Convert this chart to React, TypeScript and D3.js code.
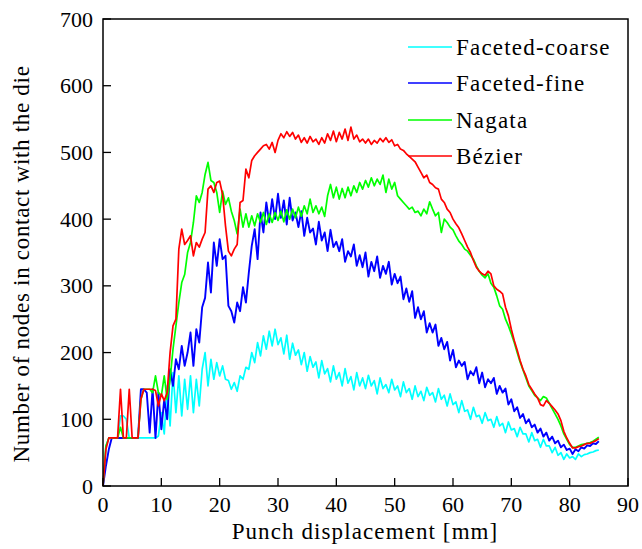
import React from "react";
import * as d3 from "d3";

const X_STEP = 0.5;
const X_TICKS = [0, 10, 20, 30, 40, 50, 60, 70, 80, 90];
const Y_TICKS = [0, 100, 200, 300, 400, 500, 600, 700];
const SERIES_NAMES = ["Faceted-coarse", "Faceted-fine", "Nagata", "Bézier"];
const SERIES_COLORS = ["#00ffff", "#0000ff", "#00ff00", "#ff0000"];

// values sampled every 0.5 mm from 0 to 85 mm
const facetedCoarse = [
  0, 60, 72, 72, 72, 72, 105, 105, 100, 72,
  72, 72, 72, 72, 72, 72, 72, 72, 72, 75,
  110, 78, 150, 90, 170, 110, 165, 105, 160, 115,
  165, 110, 160, 120, 175, 200, 150, 190, 160, 185,
  165, 180, 160, 158, 145, 155, 142, 165, 160, 178,
  175, 200, 185, 215, 195, 225, 205, 232, 210, 235,
  212, 222, 198, 226, 190, 214, 196, 204, 182, 200,
  172, 194, 178, 186, 162, 188, 168, 176, 156, 180,
  160, 170, 150, 176, 154, 164, 144, 170, 150, 162,
  146, 166, 150, 158, 138, 162, 146, 152, 140, 160,
  144, 150, 134, 156, 140, 146, 130, 150, 134, 142,
  128, 148, 136, 140, 126, 146, 130, 136, 120, 138,
  122, 126, 110, 128, 112, 114, 100, 118, 104, 106,
  94, 110, 98, 100, 88, 104, 90, 94, 80, 96,
  84, 86, 74, 88, 78, 78, 66, 80, 68, 70,
  58, 70, 60, 60, 50, 58, 46, 50, 40, 48,
  42, 44, 40, 48, 44, 47, 48, 50, 51, 53,
  54,
];

const facetedFine = [
  0, 30, 55, 72, 72, 72, 72, 72, 72, 72,
  72, 72, 72, 145, 145, 140, 80, 145, 72, 140,
  85, 130, 100, 175, 150, 190, 175, 210, 180, 200,
  230, 180, 235, 215, 268, 282, 335, 290, 365, 330,
  370, 340, 345, 270, 262, 245, 275, 262, 298, 275,
  320, 360, 385, 340, 410, 380, 425, 395, 430, 400,
  438, 402, 428, 392, 432, 398, 410, 388, 412, 375,
  402, 380, 386, 362, 396, 368, 380, 352, 384, 358,
  366, 352, 370, 336, 352, 344, 362, 330, 346, 328,
  350, 314, 336, 322, 344, 312, 330, 318, 336, 302,
  318, 304, 314, 280, 296, 276, 292, 252, 268, 250,
  262, 230, 244, 230, 242, 210, 222, 205, 216, 188,
  204, 178, 188, 180, 186, 160, 172, 166, 178, 154,
  170, 148, 160, 154, 162, 138, 150, 140, 146, 122,
  130, 112, 118, 102, 108, 94, 100, 88, 92, 80,
  86, 74, 80, 68, 74, 64, 68, 58, 62, 54,
  56, 48, 55, 52, 58, 56, 61, 60, 64, 63,
  67,
];

const nagata = [
  0, 60, 72, 72, 72, 72, 88, 72, 72, 72,
  72, 72, 72, 130, 145, 145, 145, 140, 165, 140,
  135, 165, 130, 160, 205, 240, 275, 305, 317, 350,
  365, 395, 435, 425, 440, 467, 485, 458, 455, 440,
  410, 442, 422, 432, 412, 398, 378, 415, 388, 408,
  388, 405, 390, 408, 395, 410, 392, 408, 395, 410,
  398, 412, 396, 414, 400, 415, 402, 418, 404, 420,
  408, 430, 410, 420, 408, 418, 404, 435, 452, 432,
  448, 430, 446, 432, 448, 435, 450, 440, 455, 445,
  458, 448, 462, 450, 460, 452, 466, 440, 460, 445,
  455, 435, 430, 425, 420, 415, 418, 410, 412, 405,
  415, 408, 426, 415, 405, 410, 380, 400, 395, 388,
  384, 375, 367, 362, 355, 352, 346, 340, 330, 322,
  316, 312, 318, 304, 298, 285, 270, 265, 250, 240,
  228, 215, 200, 186, 174, 162, 150, 143, 136, 132,
  128, 134, 132, 124, 116, 108, 100, 90, 78, 70,
  62, 58, 58, 60, 62, 63, 64, 65, 67, 70,
  73,
];

const bezier = [
  0, 55, 72, 72, 72, 72, 145, 72, 72, 145,
  72, 72, 72, 130, 145, 145, 145, 145, 143, 120,
  138, 128, 140, 200, 240, 250, 355, 385, 362, 368,
  375, 345, 365, 358, 370, 380, 445, 450, 440, 455,
  457, 437, 390, 352, 345, 355, 362, 425, 428, 475,
  462, 488, 495, 500, 505, 510, 512, 505, 515, 500,
  518, 528, 522, 531, 524, 530, 520, 526, 515, 522,
  514, 524, 516, 520, 512, 522, 514, 528, 518, 532,
  516, 530, 520, 535, 518, 538, 520, 526, 516, 520,
  514, 520, 512, 518, 514, 521, 516, 522, 515, 519,
  510, 512, 505, 503, 498, 494, 490, 486, 478, 470,
  462, 466, 455, 452, 447, 445, 430, 425, 415, 410,
  400, 393, 387, 378, 368, 358, 350, 338, 328, 322,
  318, 316, 322, 318, 300, 295, 292, 288, 268, 255,
  235, 218, 204, 188, 175, 165, 152, 145, 138, 132,
  122, 120, 128, 124, 119, 114, 108, 98, 82, 72,
  64, 57, 57, 59, 60, 62, 64, 64, 66, 68,
  71,
];

const ALL_SERIES = [facetedCoarse, facetedFine, nagata, bezier];

const WIDTH = 642;
const HEIGHT = 549;
const M = { left: 103, right: 628, top: 19, bottom: 486 };
const FONT = "Liberation Serif, Tinos, Times New Roman, DejaVu Serif, serif";
const tickStyle: React.CSSProperties = { fontFamily: FONT, fontSize: "22px" };
const titleStyle: React.CSSProperties = { fontFamily: FONT, fontSize: "23px", letterSpacing: "1.1px" };
const yTitleStyle: React.CSSProperties = { fontFamily: FONT, fontSize: "23px", letterSpacing: "0.7px" };
const legendStyle: React.CSSProperties = { fontFamily: FONT, fontSize: "23px", letterSpacing: "1.2px" };

export default function App() {
  const x = d3.scaleLinear().domain([0, 90]).range([M.left, M.right]);
  const y = d3.scaleLinear().domain([0, 700]).range([M.bottom, M.top]);
  const line = d3
    .line<number>()
    .x((_, i) => x(i * X_STEP))
    .y((v) => y(v));

  const legendY = [47, 83, 120, 156];

  return (
    <svg
      width={WIDTH}
      height={HEIGHT}
      style={{ position: "absolute", left: 0, top: 0, background: "#fff" }}
    >
      <rect x={0} y={0} width={WIDTH} height={HEIGHT} fill="#fff" />
      {ALL_SERIES.map((s, k) => (
        <path
          key={k}
          d={line(s) || ""}
          fill="none"
          stroke={SERIES_COLORS[k]}
          strokeWidth={k === 1 ? 1.9 : 1.7}
          strokeLinejoin="round"
        />
      ))}
      <rect
        x={M.left}
        y={M.top}
        width={M.right - M.left}
        height={M.bottom - M.top}
        fill="none"
        stroke="#000"
        strokeWidth={1.5}
      />
      {X_TICKS.map((t) => (
        <g key={"x" + t}>
          <line x1={x(t)} x2={x(t)} y1={M.bottom} y2={M.bottom - 8} stroke="#000" strokeWidth={1.3} />
          <text x={x(t)} y={512} textAnchor="middle" style={tickStyle} fill="#000">
            {t}
          </text>
        </g>
      ))}
      {Y_TICKS.map((t) => (
        <g key={"y" + t}>
          <line x1={M.left} x2={M.left + 8} y1={y(t)} y2={y(t)} stroke="#000" strokeWidth={1.3} />
          <text x={93} y={y(t) + 7.5} textAnchor="end" style={tickStyle} fill="#000">
            {t}
          </text>
        </g>
      ))}
      <text x={365} y={539} textAnchor="middle" style={titleStyle} fill="#000">
        Punch displacement [mm]
      </text>
      <text
        transform={`translate(29, 264) rotate(-90)`}
        textAnchor="middle"
        style={yTitleStyle}
        fill="#000"
      >
        Number of nodes in contact with the die
      </text>
      {SERIES_NAMES.map((n, k) => (
        <g key={n}>
          <line x1={408} x2={452} y1={legendY[k]} y2={legendY[k]} stroke={SERIES_COLORS[k]} strokeWidth={1.5} />
          <text x={456} y={legendY[k] + 8} style={legendStyle} fill="#000">
            {n}
          </text>
        </g>
      ))}
    </svg>
  );
}
